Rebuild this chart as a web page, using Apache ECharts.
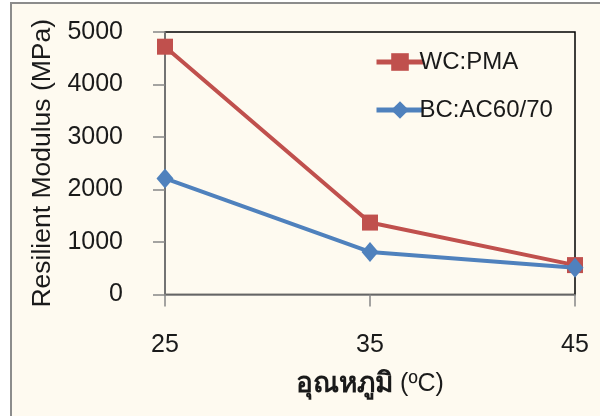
<!DOCTYPE html>
<html>
<head>
<meta charset="utf-8">
<script src="https://cdn.jsdelivr.net/npm/echarts@6/dist/echarts.min.js"></script>
<style>
  html, body { margin: 0; padding: 0; background: #ffffff; }
  #chart { width: 600px; height: 416px; }
</style>
</head>
<body>
<div id="chart"></div>
<script>
// Temperature (°C) on the x axis
const temperatures = [25, 35, 45];
// Resilient modulus (MPa) per mix
const wcPma = [4720, 1370, 560];
const bcAc6070 = [2210, 810, 510];
const seriesNames = ['WC:PMA', 'BC:AC60/70'];
const yAxisTitle = 'Resilient Modulus (MPa)';
const xAxisTitleThai = 'อุณหภูมิ';
const xAxisTitleUnit = '(ºC)';

const font = '"Liberation Sans", Arial, "Noto Sans", sans-serif';
const red = '#C0504D';
const blue = '#4F81BD';
const ink = '#1a1a1a';

const chart = echarts.init(document.getElementById('chart'), null, { renderer: 'canvas' });

chart.setOption({
  animation: false,
  backgroundColor: '#ffffff',
  textStyle: { fontFamily: font },
  graphic: [
    {
      type: 'rect',
      z: -10,
      shape: { x: 11, y: 3, width: 620, height: 440 },
      style: { fill: '#FEFAF0', stroke: '#8C8C8C', lineWidth: 2 }
    }
  ],
  grid: {
    left: 165, right: 25, top: 32, bottom: 121.5,
    show: true, borderColor: '#000000', borderWidth: 1.5, backgroundColor: 'transparent'
  },
  legend: {
    orient: 'vertical',
    left: 369, top: 45,
    itemWidth: 47, itemHeight: 22, itemGap: 24,
    textStyle: { fontSize: 24, color: ink, fontFamily: font, padding: [0, 0, 0, -9] },
    data: [
      { name: seriesNames[0], lineStyle: { width: 5, color: red }, itemStyle: { color: red } },
      { name: seriesNames[1], lineStyle: { width: 5, color: blue }, itemStyle: { color: blue } }
    ]
  },
  xAxis: {
    type: 'value',
    min: 25, max: 45, interval: 10,
    name: '{b|' + xAxisTitleThai + '} {n|' + xAxisTitleUnit + '}',
    nameLocation: 'middle',
    nameGap: 76,
    nameTextStyle: {
      fontSize: 25, color: ink, fontFamily: font,
      rich: {
        b: { fontSize: 28, fontWeight: 'bold', color: ink, fontFamily: font },
        n: { fontSize: 25, color: ink, fontFamily: font }
      }
    },
    axisLine: { show: true, onZero: false, lineStyle: { color: '#868686', width: 1.5 } },
    axisTick: { show: true, length: 12, lineStyle: { color: '#868686', width: 1.5 } },
    axisLabel: { fontSize: 25, color: ink, margin: 38, fontFamily: font, formatter: v => String(v) },
    splitLine: { show: false }
  },
  yAxis: {
    type: 'value',
    min: 0, max: 5000, interval: 1000,
    name: yAxisTitle,
    nameLocation: 'middle',
    nameGap: 108,
    nameRotate: 90,
    nameTextStyle: { fontSize: 26.5, color: ink, fontFamily: font },
    axisLine: { show: true, lineStyle: { color: '#868686', width: 1.5 } },
    axisTick: { show: true, length: 12, lineStyle: { color: '#868686', width: 1.5 } },
    axisLabel: { fontSize: 25, color: ink, margin: 42, fontFamily: font, formatter: v => String(v) },
    splitLine: { show: false }
  },
  series: [
    {
      name: seriesNames[0],
      type: 'line',
      data: temperatures.map((t, i) => [t, wcPma[i]]),
      symbol: 'rect',
      symbolSize: 16,
      lineStyle: { color: red, width: 4 },
      itemStyle: { color: red },
      z: 2
    },
    {
      name: seriesNames[1],
      type: 'line',
      data: temperatures.map((t, i) => [t, bcAc6070[i]]),
      symbol: 'diamond',
      symbolSize: [17, 20],
      lineStyle: { color: blue, width: 4 },
      itemStyle: { color: blue },
      z: 3
    }
  ]
});
</script>
</body>
</html>
